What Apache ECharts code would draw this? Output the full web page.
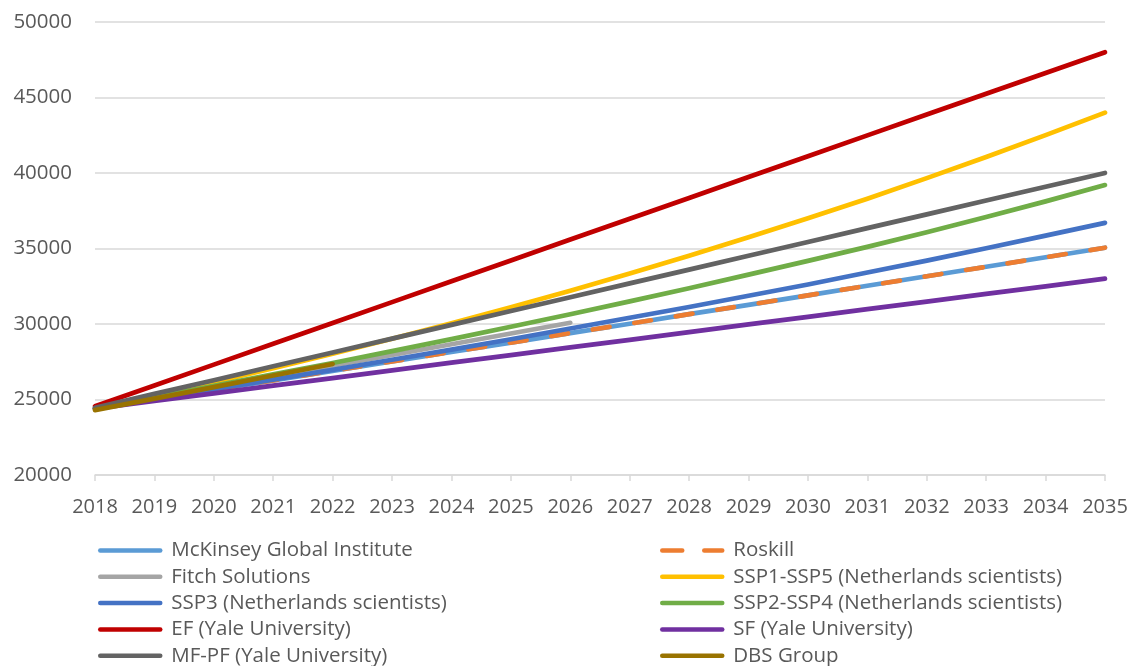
<!DOCTYPE html>
<html>
<head>
<meta charset="utf-8">
<script src="https://cdn.jsdelivr.net/npm/echarts@6/dist/echarts.min.js"></script>
<style>html,body{margin:0;padding:0;background:#fff}#c{width:1138px;height:666px}</style>
</head>
<body>
<div id="c"></div>
<script>
const years = ['2018','2019','2020','2021','2022','2023','2024','2025','2026','2027','2028','2029','2030','2031','2032','2033','2034','2035'];
const mckinsey = [24400, 25020, 25650, 26270, 26900, 27520, 28150, 28770, 29400, 30020, 30650, 31270, 31900, 32530, 33160, 33790, 34420, 35050];
const roskill  = [24400, 25020, 25650, 26270, 26900, 27520, 28150, 28770, 29400, 30020, 30650, 31270, 31900, 32530, 33160, 33790, 34420, 35050];
const fitch    = [24400, 25110, 25820, 26530, 27240, 27950, 28660, 29370, 30080];
const ssp15    = [24400, 25260, 26150, 27080, 28030, 29020, 30050, 31110, 32200, 33340, 34520, 35740, 37000, 38300, 39660, 41060, 42510, 44000];
const ssp3     = [24400, 25040, 25680, 26320, 26960, 27630, 28300, 28990, 29700, 30410, 31130, 31870, 32620, 33410, 34200, 35020, 35850, 36700];
const ssp24    = [24400, 25150, 25910, 26670, 27420, 28200, 29000, 29820, 30650, 31500, 32370, 33270, 34180, 35110, 36080, 37080, 38120, 39200];
const ef       = [24550, 25930, 27310, 28690, 30070, 31450, 32830, 34210, 35590, 36970, 38350, 39730, 41110, 42490, 43870, 45250, 46620, 48000];
const sf       = [24400, 24910, 25410, 25920, 26420, 26930, 27440, 27940, 28450, 28950, 29460, 29970, 30470, 30980, 31480, 31990, 32490, 33000];
const mfpf     = [24450, 25370, 26280, 27200, 28110, 29030, 29940, 30860, 31770, 32690, 33600, 34520, 35430, 36350, 37260, 38180, 39090, 40000];
const dbs      = [24300, 25060, 25820, 26590, 27350];

const seriesDefs = [
  {name: 'McKinsey Global Institute', data: mckinsey, color: '#5B9BD5'},
  {name: 'Roskill', data: roskill, color: '#ED7D31', dash: [17, 25]},
  {name: 'Fitch Solutions', data: fitch, color: '#A5A5A5'},
  {name: 'SSP1-SSP5 (Netherlands scientists)', data: ssp15, color: '#FFC000'},
  {name: 'SSP3 (Netherlands scientists)', data: ssp3, color: '#4472C4'},
  {name: 'SSP2-SSP4 (Netherlands scientists)', data: ssp24, color: '#70AD47'},
  {name: 'EF (Yale University)', data: ef, color: '#C00000'},
  {name: 'SF (Yale University)', data: sf, color: '#7030A0'},
  {name: 'MF-PF (Yale University)', data: mfpf, color: '#636363'},
  {name: 'DBS Group', data: dbs, color: '#997300'}
];

const FONT = 'Open Sans';
const legendBase = {
  orient: 'vertical', top: 540, height: 140, width: 420, padding: 0, itemGap: 5.3,
  itemWidth: 60, itemHeight: 14,
  itemStyle: {opacity: 0},
  lineStyle: {width: 4.5, cap: 'round'},
  textStyle: {fontFamily: FONT, fontSize: 20.5, color: '#595959', lineHeight: 20, padding: [0,0,0,6]}
};

const chart = echarts.init(document.getElementById('c'), null, {renderer: 'canvas'});
chart.setOption({
  animation: false,
  backgroundColor: '#fff',
  grid: {left: 95, right: 33, top: 22, bottom: 191, containLabel: false},
  legend: [
    Object.assign({}, legendBase, {left: 98, data: ['McKinsey Global Institute','Fitch Solutions','SSP3 (Netherlands scientists)','EF (Yale University)','MF-PF (Yale University)']}),
    Object.assign({}, legendBase, {left: 660, data: [{name: 'Roskill', lineStyle: {type: [20, 22]}},'SSP1-SSP5 (Netherlands scientists)','SSP2-SSP4 (Netherlands scientists)','SF (Yale University)','DBS Group']})
  ],
  xAxis: {
    type: 'category', data: years, boundaryGap: false,
    axisLine: {lineStyle: {color: '#D9D9D9', width: 1.5}},
    axisTick: {show: true, length: 6, interval: 0, lineStyle: {color: '#D9D9D9', width: 1.5}},
    axisLabel: {fontFamily: FONT, fontSize: 20, color: '#595959', margin: 22, interval: 0}
  },
  yAxis: {
    type: 'value', min: 20000, max: 50000, interval: 5000,
    axisLine: {show: false}, axisTick: {show: false},
    splitLine: {lineStyle: {color: '#D9D9D9', width: 1.5}},
    axisLabel: {fontFamily: FONT, fontSize: 20.5, color: '#595959', margin: 23, formatter: v => String(v)}
  },
  series: seriesDefs.map(s => ({
    name: s.name, type: 'line', data: s.data, symbol: 'none', smooth: false,
    color: s.color,
    lineStyle: {color: s.color, width: 4.7, cap: 'round', join: 'round', type: s.dash ? s.dash : 'solid'},
    emphasis: {disabled: true}
  }))
});
</script>
</body>
</html>
